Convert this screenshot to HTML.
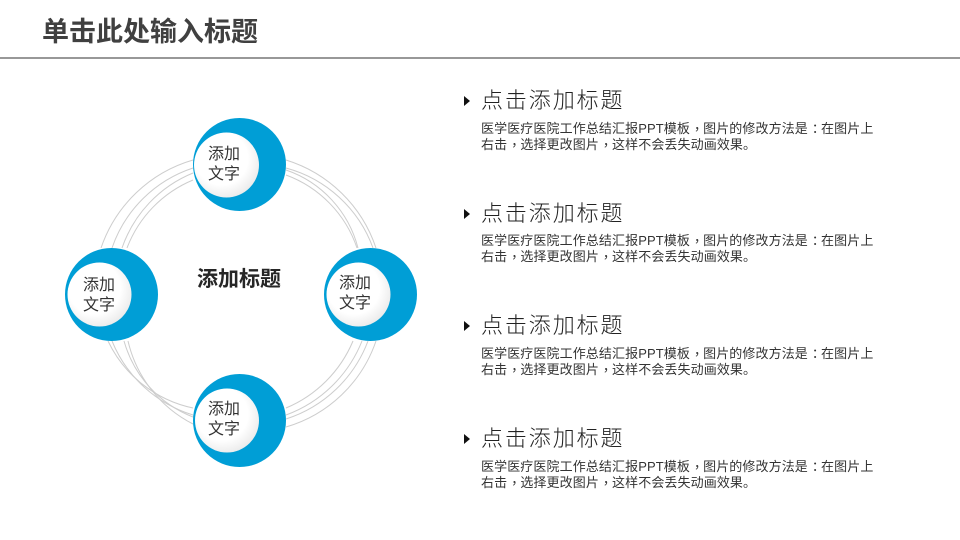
<!DOCTYPE html>
<html lang="zh"><head><meta charset="utf-8"><style>
html,body{margin:0;padding:0;background:#fff}
#p{position:relative;width:960px;height:540px;overflow:hidden;background:#fff;font-family:"Liberation Sans","Noto Sans CJK SC",sans-serif}
.t{position:absolute;white-space:nowrap}
.title{left:42px;top:12px;font-size:27px;line-height:40px;font-weight:bold;color:#404040}
.rule{position:absolute;left:0;top:57px;width:960px;height:2px;background:#989898}
.c{font-size:16px;line-height:19.5px;color:#333}
.h{left:481px;font-size:22px;line-height:30px;letter-spacing:1.9px;color:#222;font-weight:300}
.b{left:481px;font-size:13px;line-height:16px;letter-spacing:.1px;color:#333}
.b i{font-style:normal;position:relative;left:4px;top:-3px}
.b u{text-decoration:none;position:relative;left:4px}
.tri{position:absolute;left:464px;width:0;height:0;border-left:6px solid #111;border-top:5px solid transparent;border-bottom:5px solid transparent}
svg{position:absolute;left:0;top:0}
</style></head><body><div id="p">
<svg width="960" height="540" viewBox="0 0 960 540">
<defs><radialGradient id="g" cx="0.42" cy="0.4" r="0.68"><stop offset="0.6" stop-color="#fff"/><stop offset="1" stop-color="#e6e6e6"/></radialGradient></defs>
<g fill="none" stroke="#cdcdcd" stroke-width="1">
<path d="M101 248A138 138 0 0 1 193 160"/><path d="M112 248A128 128 0 0 1 193 168"/><path d="M122 248A125 125 0 0 1 193 173"/><path d="M127 248A120 120 0 0 1 193 180"/>
<path d="M286 160A138 138 0 0 1 376 248"/><path d="M286 168A128 128 0 0 1 373 248"/><path d="M286 170A112 112 0 0 1 358 248"/><path d="M286 175A118 118 0 0 1 357 248"/>
<path d="M108 341A122 122 0 0 0 193 408"/><path d="M112 341A128 128 0 0 0 193 415"/><path d="M124 341A115 115 0 0 0 193 417"/><path d="M128 341A125 125 0 0 0 193 424"/>
<path d="M286 408A125 125 0 0 0 353 341"/><path d="M286 415A130 130 0 0 0 362 341"/><path d="M286 419A130 130 0 0 0 368 341"/><path d="M286 427A135 135 0 0 0 376 341"/>
</g>
<g fill="#009ed6">
<circle cx="239.5" cy="164.5" r="46.5"/><circle cx="111.5" cy="294.5" r="46.5"/><circle cx="370.5" cy="294.5" r="46.5"/><circle cx="239.5" cy="420.5" r="46.5"/>
</g>
<g fill="url(#g)">
<circle cx="226.5" cy="165" r="32.5"/><circle cx="99.5" cy="294.5" r="32"/><circle cx="358.5" cy="294.5" r="32"/><circle cx="227" cy="420.5" r="32"/>
</g>
</svg>
<div class="t title">单击此处输入标题</div>
<div class="rule"></div>
<div class="t c" style="left:208px;top:145px">添加<br>文字</div>
<div class="t c" style="left:83px;top:276px">添加<br>文字</div>
<div class="t c" style="left:339px;top:274px">添加<br>文字</div>
<div class="t c" style="left:208px;top:400px">添加<br>文字</div>
<div class="t" style="left:197px;top:265px;font-size:21px;line-height:30px;font-weight:bold;color:#262626">添加标题</div>

<div class="tri" style="top:96px"></div>
<div class="t h" style="top:86px">点击添加标题</div>
<div class="t b" style="top:121px">医学医疗医院工作总结汇报PPT模板<i>，</i>图片的修改方法是<u>：</u>在图片上<br>右击<i>，</i>选择更改图片<i>，</i>这样不会丢失动画效果。</div>

<div class="tri" style="top:209px"></div>
<div class="t h" style="top:199px">点击添加标题</div>
<div class="t b" style="top:233px">医学医疗医院工作总结汇报PPT模板<i>，</i>图片的修改方法是<u>：</u>在图片上<br>右击<i>，</i>选择更改图片<i>，</i>这样不会丢失动画效果。</div>

<div class="tri" style="top:321px"></div>
<div class="t h" style="top:311px">点击添加标题</div>
<div class="t b" style="top:346px">医学医疗医院工作总结汇报PPT模板<i>，</i>图片的修改方法是<u>：</u>在图片上<br>右击<i>，</i>选择更改图片<i>，</i>这样不会丢失动画效果。</div>

<div class="tri" style="top:434px"></div>
<div class="t h" style="top:424px">点击添加标题</div>
<div class="t b" style="top:459px">医学医疗医院工作总结汇报PPT模板<i>，</i>图片的修改方法是<u>：</u>在图片上<br>右击<i>，</i>选择更改图片<i>，</i>这样不会丢失动画效果。</div>
</div></body></html>
